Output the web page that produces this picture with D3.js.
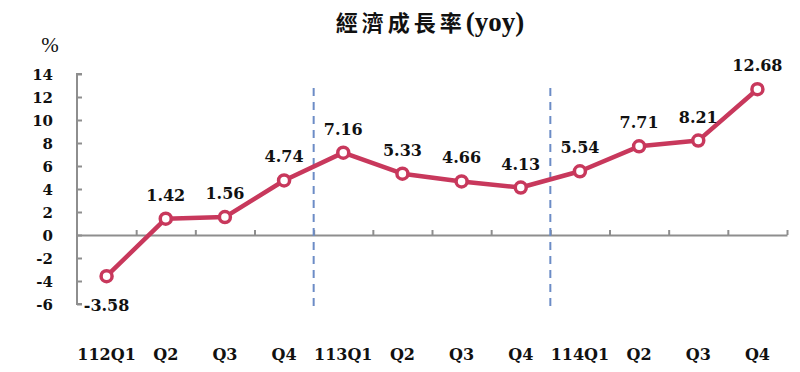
<!DOCTYPE html>
<html>
<head>
<meta charset="utf-8">
<script src="https://cdn.jsdelivr.net/npm/d3@7"></script>
<style>
  body { margin: 0; background: #fff; }
</style>
</head>
<body>
<svg id="drawing_region"></svg>
<script>
const quarters = ["112Q1", "Q2", "Q3", "Q4", "113Q1", "Q2", "Q3", "Q4", "114Q1", "Q2", "Q3", "Q4"];
const growth = [-3.58, 1.42, 1.56, 4.74, 7.16, 5.33, 4.66, 4.13, 5.54, 7.71, 8.21, 12.68];
const yTicks = [-6, -4, -2, 0, 2, 4, 6, 8, 10, 12, 14];
const yearBreaks = [4, 8];   // dashed line before these quarter indexes

const data = quarters.map( (q, i) => ({ key: i, label: q, value: growth[i] }) );

var config = {
    parent: '#drawing_region',
    width: 800,
    height: 372,
    margin: {top:74, right:10, bottom:68, left:77}
};

class Linechart {

    constructor( config, data ) {
        this.config = config;
        this.data = data;
        this.init();
    }

    init() {
        let self = this;

        self.svg = d3.select( self.config.parent )
            .attr('width', self.config.width)
            .attr('height', self.config.height);

        self.chart = self.svg.append('g')
            .attr('transform', `translate(${self.config.margin.left}, ${self.config.margin.top})`);

        self.inner_width = self.config.width - self.config.margin.left - self.config.margin.right - 3;
        self.inner_height = self.config.height - self.config.margin.top - self.config.margin.bottom;

        const title = self.svg.append("text")
            .attr("x", 430)
            .attr("y", 31)
            .attr("text-anchor", "middle")
            .attr("font-weight", "bold")
            .attr("fill", "#111");
        title.append("tspan")
            .attr("font-family", "'Noto Sans CJK TC', sans-serif")
            .attr("font-size", "22px")
            .attr("letter-spacing", "4px")
            .text("經濟成長率");
        title.append("tspan")
            .attr("font-family", "'Liberation Serif', serif")
            .attr("font-size", "27px")
            .text("(yoy)");

        self.svg.append("text")
            .attr("x", 50)
            .attr("y", 52)
            .attr("text-anchor", "middle")
            .attr("font-family", "'Liberation Serif', serif")
            .attr("font-size", "21px")
            .attr("fill", "#111")
            .text("%");

        self.xscale = d3.scaleBand()
            .domain( self.data.map( d => d.key ) )
            .range( [0, self.inner_width] );

        self.yscale = d3.scaleLinear()
            .domain( [-6, 14] )
            .range( [self.inner_height, 0] );

        self.line = d3.line()
            .x( d => self.xscale(d.key) + self.xscale.bandwidth() / 2 )
            .y( d => self.yscale(d.value) );
    }

    render() {
        let self = this;
        const grey = '#8e8e8e';
        const red = '#c8385c';
        const bw = self.xscale.bandwidth();

        // y axis
        const yaxis = d3.axisRight( self.yscale )
            .tickValues( yTicks )
            .tickSize( 5 )
            .tickFormat( '' );
        const yg = self.chart.append('g').call( yaxis );
        yg.select('.domain').attr('stroke', grey).attr('stroke-width', 2).attr('d', `M5,0H0V${self.inner_height}H5`);
        yg.selectAll('.tick line').attr('stroke', grey).attr('stroke-width', 2);

        self.chart.selectAll('.ylab').data( yTicks )
            .enter().append('text')
            .attr('x', -24)
            .attr('y', d => self.yscale(d) + 5.5)
            .attr('text-anchor', 'end')
            .attr('font-family', "'DejaVu Serif', serif")
            .attr('font-size', '15px')
            .attr('font-weight', 'bold')
            .attr('fill', '#111')
            .text( d => d );

        // zero line with category ticks
        const xaxis = d3.axisTop( d3.scaleLinear().domain([0, 12]).range([0, self.inner_width]) )
            .tickValues( d3.range(1, 13) )
            .tickSize( 5 )
            .tickSizeOuter( 0 )
            .tickFormat( '' );
        const xg = self.chart.append('g')
            .attr('transform', `translate(0, ${self.yscale(0)})`)
            .call( xaxis );
        xg.select('.domain').attr('stroke', grey).attr('stroke-width', 2);
        xg.selectAll('.tick line').attr('stroke', grey).attr('stroke-width', 2);

        // year separators
        self.chart.selectAll('.sep').data( yearBreaks )
            .enter().append('line')
            .attr('x1', d => self.xscale(d))
            .attr('x2', d => self.xscale(d))
            .attr('y1', 14)
            .attr('y2', self.inner_height + 6)
            .attr('stroke', '#6c8cc6')
            .attr('stroke-width', 2)
            .attr('stroke-dasharray', '8,6');

        // category labels
        self.chart.selectAll('.xlab').data( self.data )
            .enter().append('text')
            .attr('x', d => self.xscale(d.key) + bw / 2)
            .attr('y', self.inner_height + 56)
            .attr('text-anchor', 'middle')
            .attr('font-family', "'DejaVu Serif', serif")
            .attr('font-size', '16px')
            .attr('font-weight', 'bold')
            .attr('fill', '#111')
            .text( d => d.label );

        self.chart.append('path')
            .attr('d', self.line( self.data ))
            .attr('stroke', red)
            .attr('stroke-width', 4.5)
            .attr('stroke-linejoin', 'round')
            .attr('fill', 'none');

        self.chart.selectAll('circle').data( self.data )
            .enter().append('circle')
            .attr('cx', self.line.x())
            .attr('cy', self.line.y())
            .attr('r', 5.5)
            .attr('fill', '#fff')
            .attr('stroke', red)
            .attr('stroke-width', 3.5);

        self.chart.selectAll('.vlab').data( self.data )
            .enter().append('text')
            .attr('x', self.line.x())
            .attr('y', d => self.yscale(d.value) + (d.value < 0 ? 35 : -18))
            .attr('text-anchor', 'middle')
            .attr('font-family', "'DejaVu Serif', serif")
            .attr('font-size', '16px')
            .attr('font-weight', 'bold')
            .attr('fill', '#111')
            .text( d => d.value.toFixed(2) );
    }
}

const chart = new Linechart( config, data );
chart.render();
</script>
</body>
</html>
